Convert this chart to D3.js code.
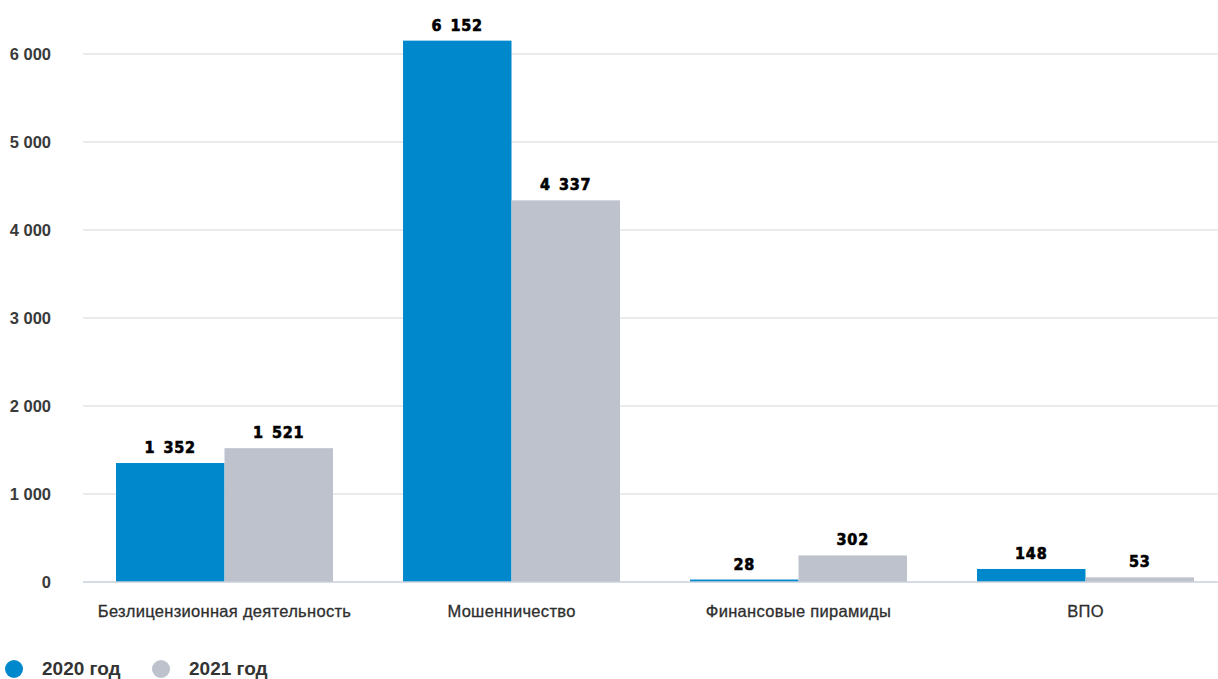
<!DOCTYPE html>
<html>
<head>
<meta charset="utf-8">
<script src="https://cdn.jsdelivr.net/npm/d3@7"></script>
<style>
  body { margin: 0; background: #fff; }
  text { font-family: "Liberation Sans", Arial, sans-serif; }
</style>
</head>
<body>
<div id="chart"></div>
<script>
const categories = ["Безлицензионная деятельность", "Мошенничество", "Финансовые пирамиды", "ВПО"];
const seriesNames = ["2020 год", "2021 год"];
const values2020 = [1352, 6152, 28, 148];
const values2021 = [1521, 4337, 302, 53];
const yTicks = [0, 1000, 2000, 3000, 4000, 5000, 6000];
const colors = ["#0088cc", "#bec2cc"];

const width = 1218;
const height = 679;
const margin = { top: 54, right: 0, bottom: 97, left: 81 };

const data = categories.map((c, i) => ({ cat: c, vals: [values2020[i], values2021[i]] }));
const fmt = v => d3.format(",")(v).replace(/,/g, " ");

const svg = d3.select("#chart")
  .append("svg")
  .attr("width", width)
  .attr("height", height);

const x = d3.scaleBand()
  .domain(categories)
  .range([margin.left, 1229])
  .paddingInner(0.244)
  .paddingOuter(0.122);

const x1 = d3.scaleBand()
  .domain([0, 1])
  .range([0, x.bandwidth()]);

const y = d3.scaleLinear()
  .domain([0, 6000])
  .range([582, 54]);

// gridlines
svg.append("g")
  .selectAll("line")
  .data(yTicks.filter(t => t > 0))
  .join("line")
  .attr("x1", 83)
  .attr("x2", width)
  .attr("y1", d => y(d))
  .attr("y2", d => y(d))
  .attr("stroke", "#e4e4e4")
  .attr("stroke-width", 1.3);

// y axis labels
svg.append("g")
  .attr("transform", `translate(51, 0)`)
  .call(d3.axisLeft(y).tickValues(yTicks).tickSize(0).tickFormat(fmt))
  .call(g => g.select(".domain").remove())
  .selectAll("text")
  .attr("x", 0)
  .attr("font-size", 16.5)
  .attr("font-weight", "bold")
  .attr("fill", "#3a3a3a")
  .style("font-family", "'Liberation Sans', Arial, sans-serif");

// bars
const groups = svg.append("g")
  .selectAll("g")
  .data(data)
  .join("g")
  .attr("transform", d => `translate(${x(d.cat)},0)`);

groups.selectAll("rect")
  .data(d => d.vals.map((v, i) => ({ v, i })))
  .join("rect")
  .attr("x", d => x1(d.i))
  .attr("y", d => y(d.v))
  .attr("width", x1.bandwidth())
  .attr("height", d => y(0) - y(d.v))
  .attr("fill", d => colors[d.i]);

groups.selectAll("text")
  .data(d => d.vals.map((v, i) => ({ v, i })))
  .join("text")
  .attr("x", d => x1(d.i) + x1.bandwidth() / 2)
  .attr("y", d => y(d.v) - 10)
  .attr("text-anchor", "middle")
  .attr("font-size", 16)
  .attr("font-weight", "bold")
  .attr("fill", "#000")
  .attr("stroke", "#000")
  .attr("stroke-width", 0.6)
  .attr("letter-spacing", 0.8)
  .style("font-family", "'DejaVu Sans Condensed', 'Liberation Sans', sans-serif")
  .text(d => fmt(d.v).replace(" ", "\u2002"));

// zero line
svg.append("line")
  .attr("x1", 83)
  .attr("x2", width)
  .attr("y1", y(0))
  .attr("y2", y(0))
  .attr("stroke", "#c9d0de")
  .attr("stroke-width", 1.5);

// x axis labels
svg.append("g")
  .attr("transform", `translate(0, ${y(0)})`)
  .call(d3.axisBottom(x).tickSize(0))
  .call(g => g.select(".domain").remove())
  .selectAll("text")
  .attr("y", 23)
  .attr("font-size", 16.5)
  .attr("letter-spacing", 0.3)
  .attr("fill", "#2e2e2e")
  .attr("stroke", "#2e2e2e")
  .attr("stroke-width", 0.3)
  .style("font-family", "'Liberation Sans', Arial, sans-serif");

// legend
const legend = svg.append("g")
  .selectAll("g")
  .data(seriesNames)
  .join("g")
  .attr("transform", (d, i) => `translate(${14 + i * 147}, 669)`);

legend.append("circle")
  .attr("r", 9)
  .attr("fill", (d, i) => colors[i]);

legend.append("text")
  .attr("x", 28)
  .attr("y", 6)
  .attr("font-size", 19)
  .attr("font-weight", "bold")
  .attr("fill", "#333")
  .text(d => d);
</script>
</body>
</html>
